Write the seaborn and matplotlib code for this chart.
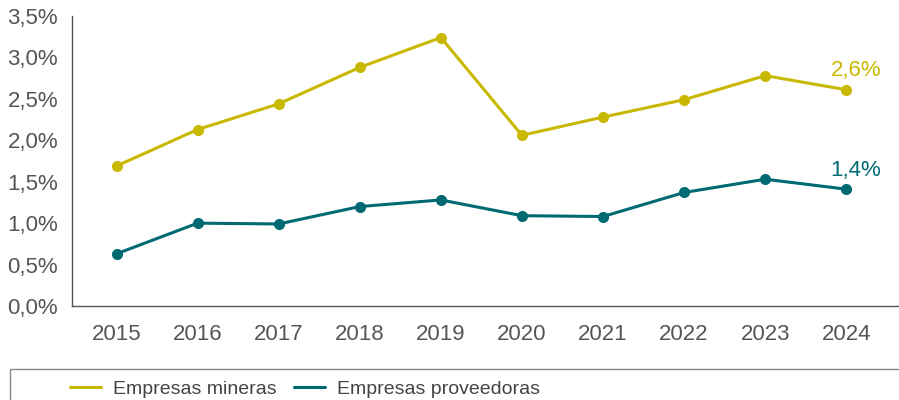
import matplotlib
matplotlib.use("Agg")
import matplotlib.pyplot as plt
import seaborn as sns
import pandas as pd
from matplotlib.patches import Rectangle
from matplotlib.ticker import FuncFormatter

years = ["2015", "2016", "2017", "2018", "2019", "2020", "2021", "2022", "2023", "2024"]
mineras = [1.69, 2.13, 2.44, 2.88, 3.24, 2.06, 2.28, 2.49, 2.78, 2.61]
proveedoras = [0.63, 1.00, 0.99, 1.20, 1.28, 1.09, 1.08, 1.37, 1.53, 1.41]
series_names = ["Empresas mineras", "Empresas proveedoras"]
colors = ["#C9B800", "#006A73"]
end_labels = ["2,6%", "1,4%"]

sns.set_style("white")
plt.rcParams["font.family"] = ["Liberation Sans", "DejaVu Sans"]
text_gray = "#555555"

df = pd.DataFrame({
    "year": years * 2,
    "value": mineras + proveedoras,
    "serie": [series_names[0]] * len(years) + [series_names[1]] * len(years),
})

fig = plt.figure(figsize=(8.99, 4.0), dpi=100)
ax = fig.add_axes([0.080, 0.235, 0.92, 0.725])

sns.lineplot(data=df, x="year", y="value", hue="serie", palette=colors,
             marker="o", markersize=8, markeredgewidth=0, linewidth=2.2,
             sort=False, ax=ax, legend=False)

ax.set_xlim(-0.55, 9.65)
ax.set_ylim(0, 3.5)
ax.set_yticks([0, 0.5, 1.0, 1.5, 2.0, 2.5, 3.0, 3.5])
ax.yaxis.set_major_formatter(FuncFormatter(lambda v, p: f"{v:.1f}%".replace(".", ",")))
ax.set_xlabel("")
ax.set_ylabel("")

for s in ["top", "right"]:
    ax.spines[s].set_visible(False)
for s in ["left", "bottom"]:
    ax.spines[s].set_color(text_gray)
    ax.spines[s].set_linewidth(1.0)

ax.tick_params(axis="y", length=4, width=1, color=text_gray, pad=6, labelsize=16, labelcolor=text_gray)
ax.tick_params(axis="x", length=0, pad=13, labelsize=16, labelcolor=text_gray)

# etiquetas al final de cada serie
last = len(years) - 1
for vals, col, lab in zip([mineras, proveedoras], colors, end_labels):
    ax.annotate(lab, (last, vals[-1]), xytext=(7, 6), textcoords="offset points",
                ha="center", va="bottom", color=col, fontsize=16)

# caja de la leyenda
fig.patches.append(Rectangle((10 / 899, -0.05), 1.0, (400 - 369) / 400 + 0.05,
                             transform=fig.transFigure, fill=False,
                             edgecolor="#888888", linewidth=1.0))
handles = [plt.Line2D([0], [0], color=c, linewidth=2.2) for c in colors]
fig.legend(handles, series_names, loc="center left", bbox_to_anchor=(70 / 899, 1 - 389 / 400),
           ncol=2, frameon=False, fontsize=14, labelcolor="#444444",
           handlelength=1.6, handletextpad=0.6, columnspacing=0.9, borderaxespad=0,
           borderpad=0)

fig.savefig("out.png", dpi=100)
